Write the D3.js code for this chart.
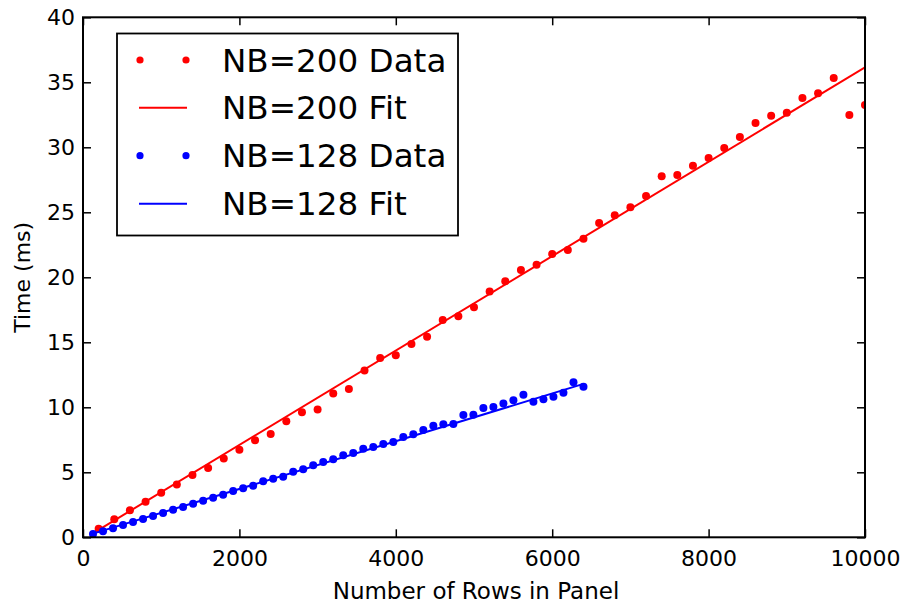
<!DOCTYPE html>
<html>
<head>
<meta charset="utf-8">
<script src="https://cdn.jsdelivr.net/npm/d3@7"></script>
<style>
  html, body { margin: 0; padding: 0; background: #fff; }
  svg { display: block; font-family: "DejaVu Sans", sans-serif; }
</style>
</head>
<body>
<script>
// ---------- data ----------
const red200X = [200,400,600,800,1000,1200,1400,1600,1800,2000,2200,2400,2600,2800,3000,3200,3400,3600,3800,4000,4200,4400,4600,4800,5000,5200,5400,5600,5800,6000,6200,6400,6600,6800,7000,7200,7400,7600,7800,8000,8200,8400,8600,8800,9000,9200,9400,9600,9800,10000];
const red200Y = [0.66,1.38,2.08,2.74,3.43,4.07,4.79,5.33,6.07,6.74,7.46,7.95,8.92,9.61,9.84,11.07,11.40,12.84,13.79,14.01,14.87,15.43,16.72,17.00,17.69,18.90,19.69,20.56,20.97,21.79,22.10,22.97,24.18,24.77,25.38,26.25,27.77,27.87,28.58,29.17,29.95,30.80,31.87,32.43,32.66,33.79,34.15,35.33,32.48,33.25];
const blue128X = [128,256,384,512,640,768,896,1024,1152,1280,1408,1536,1664,1792,1920,2048,2176,2304,2432,2560,2688,2816,2944,3072,3200,3328,3456,3584,3712,3840,3968,4096,4224,4352,4480,4608,4736,4864,4992,5120,5248,5376,5504,5632,5760,5888,6016,6144,6272,6400];
const blue128Y = [0.25,0.46,0.69,0.95,1.18,1.41,1.64,1.87,2.12,2.33,2.58,2.82,3.05,3.28,3.56,3.78,3.97,4.31,4.51,4.66,5.05,5.23,5.54,5.79,6.00,6.31,6.48,6.82,6.95,7.18,7.33,7.72,7.92,8.25,8.58,8.69,8.72,9.41,9.43,9.95,10.02,10.30,10.54,10.97,10.43,10.62,10.82,11.12,11.92,11.58];
const fit200X = [200, 10000];
const fit200Y = [0.57, 36.15];
const fit128X = [128, 6400];
const fit128Y = [0.28, 11.8];
const xTicks = [0,2000,4000,6000,8000,10000];
const yTicks = [0,5,10,15,20,25,30,35,40];
const legendLabels = ["NB=200 Data","NB=200 Fit","NB=128 Data","NB=128 Fit"];
const xTitle = "Number of Rows in Panel";
const yTitle = "Time (ms)";

// ---------- layout ----------
const W = 909, H = 609;
const L = 83, R = 865, T = 17.3, B = 537.3;

const svg = d3.select("body").append("svg").attr("width", W).attr("height", H);
const x = d3.scaleLinear().domain([0, 10000]).range([L, R]);
const y = d3.scaleLinear().domain([0, 40]).range([B, T]);

svg.append("defs").append("clipPath").attr("id","clip")
  .append("rect").attr("x", L).attr("y", T).attr("width", R - L).attr("height", B - T);

const plot = svg.append("g").attr("clip-path","url(#clip)");
const line = d3.line().x(d => x(d[0])).y(d => y(d[1]));

function dots(xs, ys, color) {
  plot.append("g").selectAll("circle").data(d3.zip(xs, ys)).join("circle")
    .attr("cx", d => x(d[0])).attr("cy", d => y(d[1])).attr("r", 4).attr("fill", color);
}
function fitLine(xs, ys, color) {
  plot.append("path").datum(d3.zip(xs, ys)).attr("d", line)
    .attr("fill","none").attr("stroke", color).attr("stroke-width", 2);
}
dots(red200X, red200Y, "#ff0000");
fitLine(fit200X, fit200Y, "#ff0000");
dots(blue128X, blue128Y, "#0000ff");
fitLine(fit128X, fit128Y, "#0000ff");

// ---------- axes ----------
const fs = 22;
function styleAxis(g) {
  g.selectAll(".domain").remove();
  g.selectAll(".tick line").attr("stroke","#000").attr("stroke-width",1.5);
  g.selectAll(".tick text").attr("fill","#000").style("font-size", fs + "px").style("font-family","DejaVu Sans");
}
svg.append("g").attr("transform",`translate(0,${B})`)
  .call(d3.axisBottom(x).tickValues(xTicks).tickFormat(d3.format("d")).tickSizeInner(-8).tickSizeOuter(0).tickPadding(13))
  .call(styleAxis);
svg.append("g").attr("transform",`translate(0,${T})`)
  .call(d3.axisTop(x).tickValues(xTicks).tickFormat("").tickSizeInner(-8).tickSizeOuter(0))
  .call(styleAxis);
svg.append("g").attr("transform",`translate(${L},0)`)
  .call(d3.axisLeft(y).tickValues(yTicks).tickFormat(d3.format("d")).tickSizeInner(-8).tickSizeOuter(0).tickPadding(8))
  .call(styleAxis);
svg.append("g").attr("transform",`translate(${R},0)`)
  .call(d3.axisRight(y).tickValues(yTicks).tickFormat("").tickSizeInner(-8).tickSizeOuter(0))
  .call(styleAxis);

svg.append("rect").attr("x", L).attr("y", T).attr("width", R - L).attr("height", B - T)
  .attr("fill","none").attr("stroke","#000").attr("stroke-width",2);

svg.append("text").attr("x", 476).attr("y", 599).attr("text-anchor","middle")
  .style("font-size", "23px").text(xTitle);
svg.append("text").attr("transform",`translate(30,${(T + B) / 2}) rotate(-90)`).attr("text-anchor","middle")
  .style("font-size", fs + "px").text(yTitle);

// ---------- legend ----------
const lg = svg.append("g");
lg.append("rect").attr("x",117).attr("y",33.5).attr("width",341).attr("height",202)
  .attr("fill","#fff").attr("stroke","#000").attr("stroke-width",1.8);
const rows = [60, 107.7, 155.7, 203.7];
const colors = ["#ff0000","#ff0000","#0000ff","#0000ff"];
const kinds = ["dot","line","dot","line"];
legendLabels.forEach((lab, i) => {
  const yy = rows[i];
  if (kinds[i] === "dot") {
    [140, 186].forEach(cx => lg.append("circle").attr("cx", cx).attr("cy", yy).attr("r", 3.6).attr("fill", colors[i]));
  } else {
    lg.append("line").attr("x1",139).attr("x2",187).attr("y1",yy).attr("y2",yy)
      .attr("stroke", colors[i]).attr("stroke-width",2);
  }
  lg.append("text").attr("x",222).attr("y",yy).attr("dy","0.36em")
    .style("font-size","32.6px").text(lab);
});
</script>
</body>
</html>
